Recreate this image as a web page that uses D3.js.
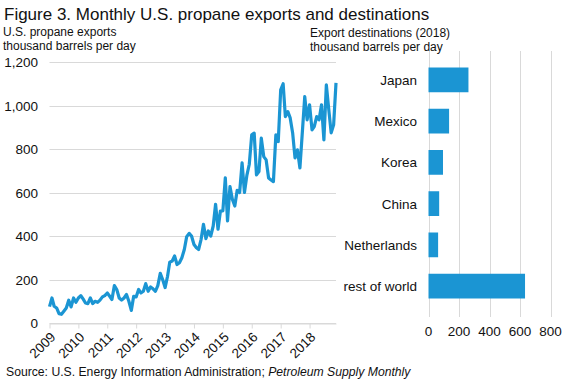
<!DOCTYPE html>
<html>
<head>
<meta charset="utf-8">
<script src="https://cdn.jsdelivr.net/npm/d3@7"></script>
<style>
body { margin: 0; background: #fff; }
svg { font-family: "Liberation Sans", Arial, sans-serif; }
</style>
</head>
<body>
<div id="chart"></div>
<script>
/* global d3 */
// monthly U.S. propane exports, Jan 2009 - Dec 2018 (thousand b/d)
var exportsMonthly = [
	75, 115, 77, 69, 43, 40, 54, 69, 105, 74, 115, 95,
	115, 126, 111, 92, 89, 115, 89, 100, 95, 105, 120, 126,
	138, 123, 108, 172, 154, 115, 105, 115, 131, 100, 58, 123,
	120, 154, 138, 146, 181, 146, 166, 157, 146, 172, 228, 200,
	163, 215, 280, 285, 308, 269, 277, 300, 338, 397, 412, 400,
	361, 346, 338, 385, 454, 388, 423, 400, 446, 546, 431, 515,
	515, 667, 469, 627, 569, 538, 610, 600, 736, 600, 680, 730,
	865, 873, 681, 696, 850, 765, 750, 667, 658, 650, 865, 834,
	1072, 1100, 949, 972, 943, 874, 759, 796, 713, 874, 1041, 934,
	1003, 888, 903, 949, 934, 1003, 842, 1095, 980, 874, 911, 1104
];
var startYear = 2009;
var yearTicks = [2009, 2010, 2011, 2012, 2013, 2014, 2015, 2016, 2017, 2018];
var lineTicks = [0, 200, 400, 600, 800, 1000, 1200];

var destinations = ["Japan", "Mexico", "Korea", "China", "Netherlands", "rest of world"];
var destValues = [262, 135, 95, 70, 63, 633];
var barTicks = [0, 200, 400, 600, 800];

var width = 576, height = 384;
var blue = "#1b95d3", grid = "#d9d9d9";

var svg = d3.select("#chart").append("svg")
	.attr("width", width)
	.attr("height", height);

// titles
svg.append("text").attr("x", 4).attr("y", 20)
	.attr("font-size", 17).attr("fill", "#111")
	.text("Figure 3. Monthly U.S. propane exports and destinations");
svg.append("text").attr("x", 3).attr("y", 36).attr("font-size", 12).attr("fill", "#111")
	.text("U.S. propane exports");
svg.append("text").attr("x", 3).attr("y", 50).attr("font-size", 12).attr("fill", "#111")
	.text("thousand barrels per day");
svg.append("text").attr("x", 310).attr("y", 37).attr("font-size", 12).attr("fill", "#111")
	.text("Export destinations (2018)");
svg.append("text").attr("x", 310).attr("y", 51).attr("font-size", 12).attr("fill", "#111")
	.text("thousand barrels per day");

// line chart
var data = exportsMonthly.map(function(v, i){
	return {date: new Date(startYear, i, 1), value: v};
});
var x = d3.scaleTime()
	.domain([new Date(startYear, 0, 1), new Date(startYear, exportsMonthly.length - 1, 1)])
	.range([49.5, 336]);
var y = d3.scaleLinear().domain([0, 1200]).range([323, 62]);

var g = svg.append("g");
g.selectAll("line.grid").data(lineTicks).enter().append("line")
	.attr("x1", 49.5).attr("x2", 336)
	.attr("y1", function(d){ return Math.round(y(d)) + 0.5; })
	.attr("y2", function(d){ return Math.round(y(d)) + 0.5; })
	.attr("stroke", grid);
g.selectAll("text.ylab").data(lineTicks).enter().append("text")
	.attr("x", 38).attr("y", function(d){ return y(d) + 5; })
	.attr("text-anchor", "end").attr("font-size", 13.5).attr("fill", "#111")
	.text(d3.format(","));

var xAxis = g.append("g")
	.attr("transform", "translate(0," + (Math.round(y(0)) + 0.5) + ")")
	.call(d3.axisBottom(x)
		.tickValues(yearTicks.map(function(yr){ return new Date(yr, 0, 1); }))
		.tickFormat(d3.timeFormat("%Y"))
		.tickSize(5).tickSizeOuter(0));
xAxis.select(".domain").attr("stroke", grid);
xAxis.selectAll(".tick line").attr("stroke", grid);
xAxis.selectAll(".tick text")
	.attr("font-family", "Liberation Sans, Arial, sans-serif")
	.attr("font-size", 13.5).attr("fill", "#111")
	.attr("text-anchor", "end")
	.attr("y", 0)
	.attr("dy", "0.35em")
	.attr("transform", "translate(3,11) rotate(-45)");

g.append("path").datum(data)
	.attr("fill", "none")
	.attr("stroke", blue)
	.attr("stroke-width", 3.2)
	.attr("stroke-linejoin", "round")
	.attr("d", d3.line()
		.x(function(d){ return x(d.date); })
		.y(function(d){ return y(d.value); }));

// bar chart
var bx = d3.scaleLinear().domain([0, 800]).range([428.5, 550.5]);
var by = d3.scaleBand().domain(destinations).range([51, 315]).padding(0.4);

var b = svg.append("g");
b.selectAll("line.grid").data(barTicks).enter().append("line")
	.attr("x1", function(d){ return Math.round(bx(d)) + 0.5; })
	.attr("x2", function(d){ return Math.round(bx(d)) + 0.5; })
	.attr("y1", 51).attr("y2", 317)
	.attr("stroke", grid);
b.selectAll("rect").data(destValues).enter().append("rect")
	.attr("x", bx(0))
	.attr("y", function(d, i){ return by(destinations[i]); })
	.attr("width", function(d){ return bx(d) - bx(0); })
	.attr("height", by.bandwidth())
	.attr("fill", blue);
b.selectAll("text.cat").data(destinations).enter().append("text")
	.attr("x", 417)
	.attr("y", function(d){ return by(d) + by.bandwidth() / 2 + 5; })
	.attr("text-anchor", "end").attr("font-size", 13.5).attr("fill", "#111")
	.text(String);
b.selectAll("text.xlab").data(barTicks).enter().append("text")
	.attr("x", function(d){ return bx(d); })
	.attr("y", 336)
	.attr("text-anchor", "middle").attr("font-size", 13.5).attr("fill", "#111")
	.text(String);

// source
var src = svg.append("text").attr("x", 6).attr("y", 376)
	.attr("font-size", 12.2).attr("fill", "#111");
src.append("tspan").text("Source: U.S. Energy Information Administration; ");
src.append("tspan").attr("font-style", "italic").text("Petroleum Supply Monthly");
</script>
</body>
</html>
